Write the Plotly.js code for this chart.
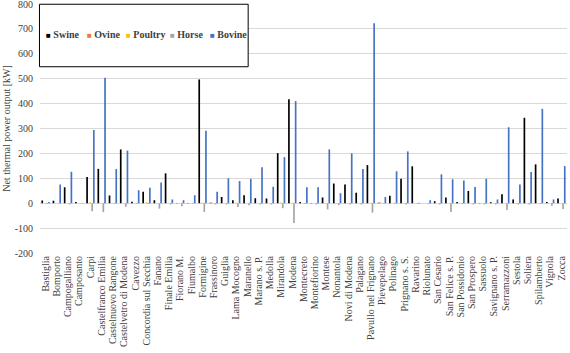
<!DOCTYPE html>
<html><head><meta charset="utf-8">
<script src="https://cdn.plot.ly/plotly-3.0.1.min.js"></script>
<style>html,body{margin:0;padding:0;background:#fff}</style>
</head><body><div id="chart" style="width:570px;height:353px"></div>
<script>
const municipalities = ['Bastiglia','Bomporto','Campogalliano','Camposanto','Carpi','Castelfranco Emilia','Castelnuovo Rangone','Castelvetro di Modena','Cavezzo','Concordia sul Secchia','Fanano','Finale Emilia','Fiorano M.','Fiumalbo','Formigine','Frassinoro','Guiglia','Lama Mocogno','Maranello','Marano s. P.','Medolla','Mirandola','Modena','Montecreto','Montefiorino','Montese','Nonantola','Novi di Modena','Palagano','Pavullo nel Frignano','Pievepelago','Polinago','Prignano s. S.','Ravarino','Riolunato','San Cesario','San Felice s. P.','San Possidonio','San Prospero','Sassuolo','Savignano s. P.','Serramazzoni','Sestola','Soliera','Spilamberto','Vignola','Zocca'];
const swine   = [11,10,64,5,105,138,31,216,6,46,12,120,1,1,497,2,25,12,32,20,19,201,417,5,1,23,79,75,42,153,2,30,98,148,0,8,23,5,49,1,4,36,15,343,156,5,19];
const ovine   = [0,0,0,0,1,0,0,0,0,0,0,0,0,0,1,2,0,0,0,0,0,0,0,0,0,0,0,0,0,0,3,0,0,0,0,0,0,0,0,0,0,0,0,0,0,0,0];
const poultry = [0,0,0,0,4,0,0,0,0,4,0,0,0,0,2,0,0,2,0,0,0,3,2,0,0,0,0,0,0,2,0,0,0,0,0,0,0,0,0,0,0,0,0,0,0,0,0];
const horse   = [-3,-2,-5,-1,-32,-36,-3,-14,-2,-3,-22,-5,-12,-2,-35,-5,-5,-15,-8,-5,-5,-20,-80,-2,-5,-25,-8,-5,-5,-38,-2,-3,-5,-2,-3,-5,-35,-3,-5,-5,-5,-27,-5,-5,-3,-10,-23];
const bovine  = [5,75,126,1,294,504,137,211,52,62,83,15,12,32,291,46,100,89,98,144,66,185,410,64,64,216,40,200,137,723,25,128,208,2,12,116,96,91,65,98,15,305,75,125,379,15,149];
const seriesNames = ['Swine','Ovine','Poultry','Horse','Bovine'];
const seriesColors = ['#000000','#ED7D31','#FFC000','#A5A5A5','#4472C4'];
const yTicks = [-200,-100,0,100,200,300,400,500,600,700,800];

const seriesValues = [swine, ovine, poultry, horse, bovine];
const traces = seriesNames.map((name, i) => ({
  type: 'bar', name: name, x: municipalities, y: seriesValues[i],
  marker: {color: seriesColors[i]}, showlegend: false, hoverinfo: 'x+y+name'
}));

const serif = 'Liberation Serif, Times New Roman, serif';
const legendLeft = [44, 85, 124, 167.5, 208];
const annotations = seriesNames.map((name, i) => ({
  xref: 'paper', yref: 'paper', x: (legendLeft[i] - 40) / 527, y: 0.878,
  xanchor: 'left', yanchor: 'middle', showarrow: false,
  text: '<span style="color:' + seriesColors[i] + ';font-size:8px">■</span> ' + name,
  font: {family: serif, size: 10, color: '#404040', weight: 'bold'}
}));

const layout = {
  width: 570, height: 353,
  margin: {l: 40, r: 3, t: 4, b: 100},
  paper_bgcolor: '#ffffff', plot_bgcolor: '#ffffff',
  barmode: 'group', bargap: 0.25, bargroupgap: 0,
  showlegend: false,
  font: {family: serif, color: '#404040'},
  xaxis: {
    type: 'category', tickmode: 'array', tickvals: municipalities, ticktext: municipalities,
    tickangle: -90, ticks: '', showgrid: false, showline: false,
    tickfont: {family: serif, size: 10, color: '#404040'}, automargin: false
  },
  yaxis: {
    range: [-200, 800], tickvals: yTicks, ticktext: yTicks.map(String),
    ticklabeloverflow: 'allow',
    showgrid: true, gridcolor: '#d9d9d9', gridwidth: 1,
    zeroline: true, zerolinecolor: '#d9d9d9', zerolinewidth: 1,
    showline: false, ticks: '', ticklabelstandoff: 6,
    tickfont: {family: serif, size: 10, color: '#404040'},
    title: {text: 'Net thermal power output [kW]', standoff: 2,
            font: {family: serif, size: 10, color: '#404040'}},
    automargin: false
  },
  shapes: [{
    type: 'rect', xref: 'paper', yref: 'paper',
    x0: -0.001, x1: 0.395, y0: 0.748, y1: 0.999,
    fillcolor: '#ffffff', line: {color: '#000000', width: 1}, layer: 'above'
  }],
  annotations: annotations
};

Plotly.newPlot('chart', traces, layout, {displayModeBar: false, staticPlot: true});
</script>
</body></html>
